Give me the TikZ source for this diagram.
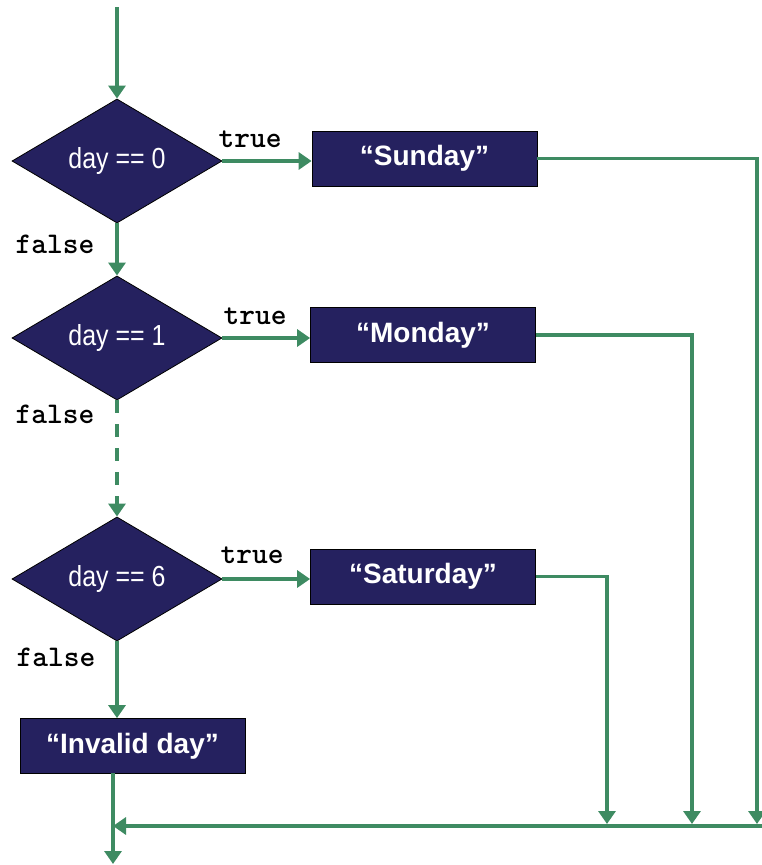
\documentclass[tikz,border=0pt]{standalone}
\usepackage{fontspec}
\setmainfont{Liberation Sans}
\newfontfamily\condfont[FakeStretch=0.86]{Liberation Sans}
\usetikzlibrary{shapes.geometric,arrows.meta}
\definecolor{navy}{HTML}{25215F}
\definecolor{flow}{HTML}{3E8B62}
\tikzset{
  test/.style={diamond, draw=black, line width=0.8pt, fill=navy, text=white,
    minimum width=210pt, minimum height=120pt, inner sep=0pt,
    font=\condfont\fontsize{29}{32}\selectfont},
  action/.style={rectangle, draw=black, line width=0.8pt, fill=navy, text=white,
    minimum width=225pt, minimum height=55pt, inner sep=0pt,
    font=\bfseries\fontsize{28}{32}\selectfont},
  branch/.style={font=\ttfamily\bfseries\fontsize{30}{32}\selectfont, text=black, inner sep=0pt},
  link/.style={draw=flow, line width=3.2pt, -{Triangle[length=13pt,width=17pt]}},
  gap/.style={draw=flow, line width=3.2pt, dash pattern=on 13pt off 11pt,
    -{Triangle[length=13pt,width=17pt]}},
}
\begin{document}
\begin{tikzpicture}[x=1pt,y=-1pt]
  \useasboundingbox (0,0) rectangle (762,865);

  % decisions
  \node[test] (d0) at (117,161) {day == 0};
  \node[test] (d1) at (117,338) {day == 1};
  \node[test] (d6) at (117,579) {day == 6};

  % outputs
  \node[action] (sun) at (424.5,158.5) {“Sunday”};
  \node[action] (mon) at (423,335) {“Monday”};
  \node[action] (sat) at (423,576.5) {“Saturday”};
  \node[action] (inv) at (132.5,746) {“Invalid day”};

  % branch labels
  \node[branch] (t0) at (250,139) {true};
  \node[branch] (f0) at (55,244) {false};
  \node[branch] (t1) at (255,316) {true};
  \node[branch] (f1) at (55,414) {false};
  \node[branch] (t6) at (252,555) {true};
  \node[branch] (f6) at (56,657) {false};

  % helper points
  \coordinate (start) at (117,7);
  \coordinate (invout) at (113,773);
  \coordinate (end) at (113,864);
  \coordinate (edge) at (762,826);
  \coordinate (merge) at (113,826);
  \coordinate (rsun) at (757,824);
  \coordinate (rmon) at (692,824);
  \coordinate (rsat) at (607,824);

  % main chain
  \path[link] (start) -- (d0.north);
  \path[link] (d0.south) -- (d1.north);
  \path[gap] (d1.south) -- (d6.north);
  \path[link] (d6.south) -- (inv.north -| d6.south);

  % true branches
  \path[link] (d0.east) -- (d0.east -| sun.west);
  \path[link] (d1.east) -- (d1.east -| mon.west);
  \path[link] (d6.east) -- (d6.east -| sat.west);

  % returns to the common exit
  \path[link] (sun.east) -| (rsun);
  \path[link] (mon.east) -| (rmon);
  \path[link] (sat.east) -| (rsat);
  \path[link] (edge) -- (merge);
  \path[link] (invout) -- (end);
\end{tikzpicture}
\end{document}
